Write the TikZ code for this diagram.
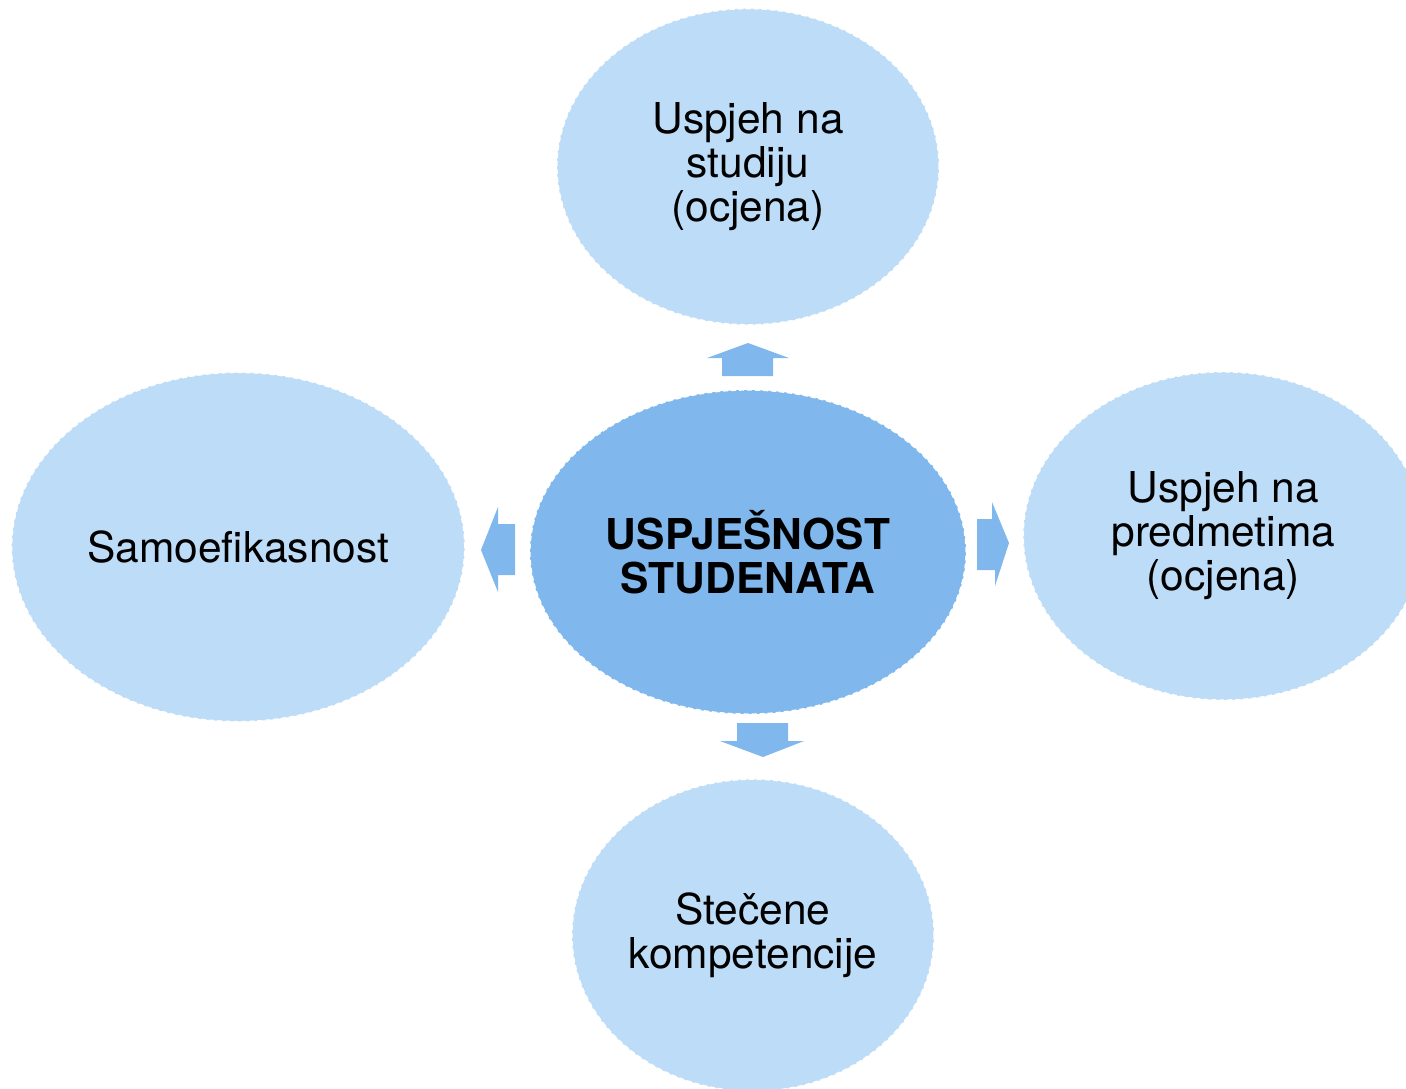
\documentclass[tikz,border=0pt]{standalone}
\usepackage{fontspec}
\setmainfont{TeX Gyre Heros}
\usetikzlibrary{shapes.geometric, positioning}
\definecolor{bgblue}{HTML}{D6E7F5}
\definecolor{lightcirc}{HTML}{BDDCF7}
\definecolor{darkcirc}{HTML}{80B8EE}
\tikzset{
	node distance=64pt, % gap between the outer ellipses and the middle one
	every node/.style={font=\fontsize{42.5}{44}\selectfont, align=center},
	bubble/.style={ellipse, draw=white, dash pattern=on 5pt off 3pt, line width=1.3pt, inner sep=0pt, fill=lightcirc}, % outer ellipses
	core/.style={bubble, fill=darkcirc, font=\fontsize{42.5}{44}\selectfont\bfseries}, % middle ellipse
	blockarrow/.style={fill=darkcirc},
}
\begin{document}
\begin{tikzpicture}[x=1pt, y=-1pt]
	\useasboundingbox (0,0) rectangle (1406,1088);
	\clip (0,0) rectangle (1406,1088);
	\shade[top color=white, middle color=bgblue, bottom color=white] (0,0) rectangle (1406,1088);
	\node[core, minimum width=436pt, minimum height=324pt] (usp) at (748,552) {USPJEŠNOST\\STUDENATA};
	\node[bubble, above=of usp, minimum width=382pt, minimum height=316pt] (studij) {Uspjeh na\\studiju\\(ocjena)};
	\node[bubble, left=of usp, yshift=5pt, minimum width=453pt, minimum height=349pt] (samo) {Samoefikasnost};
	\node[bubble, right=56pt of usp, yshift=16pt, minimum width=400pt, minimum height=328pt] (pred) {Uspjeh na\\predmetima\\(ocjena)};
	\node[bubble, below=of usp, xshift=5pt, minimum width=362pt, minimum height=312pt] (komp) {Stečene\\kompetencije};
	% block arrows
	\fill[blockarrow] (722,376) -- (722,358) -- (707,358) -- (748,343) -- (789,358) -- (773,358) -- (773,376) -- cycle;
	\fill[blockarrow] (515,524) -- (498,524) -- (498,507) -- (481,550) -- (498,592) -- (498,575) -- (515,575) -- cycle;
	\fill[blockarrow] (977,519) -- (992,519) -- (992,502) -- (1009,543) -- (995,586) -- (995,570) -- (977,570) -- cycle;
	\fill[blockarrow] (737,723) -- (788,723) -- (788,741) -- (804,741) -- (763,757) -- (720,741) -- (737,741) -- cycle;
\end{tikzpicture}
\end{document}
